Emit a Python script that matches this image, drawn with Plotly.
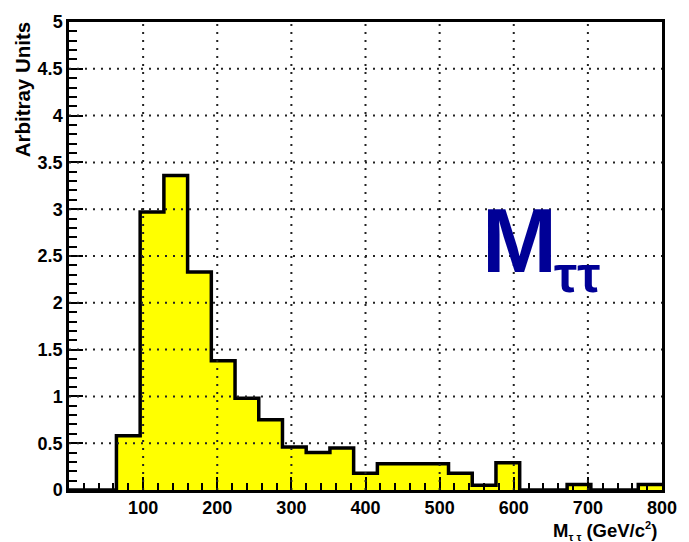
import plotly.graph_objects as go

# Histogram of the di-tau invariant mass, 25 bins of 32 GeV/c^2 from 0 to 800
bin_edges = [0, 32, 64, 96, 128, 160, 192, 224, 256, 288, 320, 352, 384,
             416, 448, 480, 512, 544, 576, 608, 640, 672, 704, 736, 768, 800]
bin_values = [0.0, 0.0, 0.58, 2.97, 3.36, 2.33, 1.38, 0.98, 0.75, 0.46,
              0.40, 0.45, 0.18, 0.28, 0.28, 0.28, 0.18, 0.05, 0.29, 0.0,
              0.0, 0.06, 0.0, 0.0, 0.06]

x_tick_vals = [100, 200, 300, 400, 500, 600, 700, 800]
x_tick_text = ["100", "200", "300", "400", "500", "600", "700", "800"]
y_tick_vals = [0, 0.5, 1, 1.5, 2, 2.5, 3, 3.5, 4, 4.5, 5]
y_tick_text = ["0", "0.5", "1", "1.5", "2", "2.5", "3", "3.5", "4", "4.5", "5"]

x_grid = [100, 200, 300, 400, 500, 600, 700]
y_grid = [0.5, 1, 1.5, 2, 2.5, 3, 3.5, 4, 4.5]

FONT = "Liberation Sans, Arial, Helvetica, sans-serif"

fig = go.Figure()

# step outline: each bin value is held from its left edge to the next edge
fig.add_trace(go.Scatter(
    x=bin_edges,
    y=bin_values + [bin_values[-1]],
    mode="lines",
    line=dict(shape="hv", color="black", width=3.5),
    fill="tozeroy",
    fillcolor="#ffff00",
    hoverinfo="skip",
    showlegend=False,
))

# dotted grid drawn above the filled histogram
shapes = []
for gx in x_grid:
    shapes.append(dict(type="line", xref="x", yref="y", x0=gx, x1=gx, y0=0, y1=5,
                       layer="above", line=dict(color="#222222", width=2, dash="2px,6px")))
for gy in y_grid:
    shapes.append(dict(type="line", xref="x", yref="y", x0=0, x1=800, y0=gy, y1=gy,
                       layer="above", line=dict(color="#222222", width=2, dash="2px,6px")))

fig.update_layout(
    width=689, height=542,
    margin=dict(l=69, r=24, t=16, b=52),
    paper_bgcolor="white", plot_bgcolor="white",
    shapes=shapes,
    font=dict(family=FONT, color="black"),
)

fig.update_xaxes(
    range=[0, 800], showgrid=False, zeroline=False,
    showline=True, linecolor="black", linewidth=2.5, mirror=True,
    tickmode="array", tickvals=x_tick_vals, ticktext=x_tick_text,
    ticks="inside", ticklen=13, tickwidth=2, tickcolor="black",
    minor=dict(tickmode="linear", tick0=0, dtick=20, ticks="inside",
               ticklen=7, tickwidth=2, tickcolor="black", showgrid=False),
    tickfont=dict(family=FONT, size=18, color="black", weight="bold"),
    ticklabelstandoff=0,
    layer="above traces",
)
fig.update_yaxes(
    range=[0, 5], showgrid=False, zeroline=False,
    showline=True, linecolor="black", linewidth=2.5, mirror=True,
    tickmode="array", tickvals=y_tick_vals, ticktext=y_tick_text,
    ticks="inside", ticklen=14, tickwidth=2, tickcolor="black",
    minor=dict(tickmode="linear", tick0=0, dtick=0.1, ticks="inside",
               ticklen=8, tickwidth=2, tickcolor="black", showgrid=False),
    tickfont=dict(family=FONT, size=18, color="black", weight="bold"),
    ticklabelstandoff=0,
    layer="above traces",
)

# axis titles placed at the far ends of the axes
fig.add_annotation(
    text="Arbitray Units", textangle=-90,
    xref="paper", yref="paper", x=-0.079, y=1.006,
    xanchor="center", yanchor="top", showarrow=False,
    font=dict(family=FONT, size=20.5, color="black", weight="bold"),
)
fig.add_annotation(
    text="M<sub><span style='font-size:11px'>τ τ</span></sub> (GeV/c<sup><span style='font-size:11px'>2</span></sup>)",
    xref="paper", yref="paper", x=0.995, y=-0.087,
    xanchor="right", yanchor="middle", showarrow=False,
    font=dict(family=FONT, size=18.5, color="black", weight="bold"),
)

# large blue label inside the frame
fig.add_annotation(
    text="M", xref="x", yref="y", x=554, y=2.1,
    xanchor="left", yanchor="bottom", showarrow=False,
    font=dict(family=FONT, size=90, color="#000096", weight="bold"),
)
fig.add_annotation(
    text="ττ", xref="x", yref="y", x=651, y=1.98,
    xanchor="left", yanchor="bottom", showarrow=False,
    font=dict(family=FONT, size=52, color="#000096", weight="bold"),
)

fig.write_html("out.html")
